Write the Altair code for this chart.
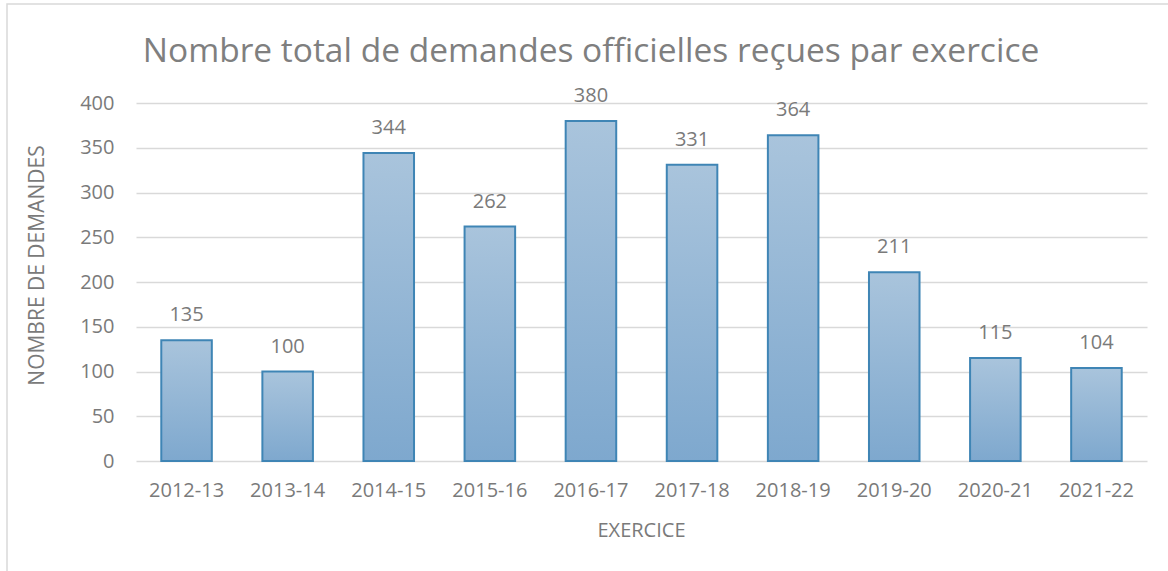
import altair as alt
import pandas as pd

categories = ["2012-13", "2013-14", "2014-15", "2015-16", "2016-17",
              "2017-18", "2018-19", "2019-20", "2020-21", "2021-22"]
values = [135, 100, 344, 262, 380, 331, 364, 211, 115, 104]
title_text = "Nombre total de demandes officielles reçues par exercice"

df = pd.DataFrame({"exercice": categories, "demandes": values})

FONT = "Open Sans"
GRAY = "#7a7a7a"

x = alt.X("exercice:N", sort=categories,
          scale=alt.Scale(paddingInner=0.5, paddingOuter=0.25),
          axis=alt.Axis(title="EXERCICE", labelAngle=0, labelFontSize=20,
                        labelColor=GRAY, labelFont=FONT, labelPadding=19,
                        ticks=False, domain=False, titleFont=FONT,
                        titleFontSize=20, titleFontWeight="normal",
                        titleColor=GRAY, titleX=505, titleY=69,
                        titleBaseline="middle", titleAlign="center"))
y = alt.Y("demandes:Q", scale=alt.Scale(domain=[0, 400]),
          axis=alt.Axis(title="NOMBRE DE DEMANDES", values=list(range(0, 401, 50)),
                        labelFontSize=20, labelColor=GRAY, labelFont=FONT,
                        labelPadding=22, ticks=False, domain=False,
                        gridColor="#d9d9d9", gridWidth=1.5,
                        titleFont=FONT, titleFontSize=21,
                        titleFontWeight="normal", titleColor=GRAY,
                        titleX=-99, titleY=162, titleAngle=-90,
                        titleBaseline="middle", titleAlign="center"))

base = alt.Chart(df)

bars = base.mark_bar(
    color=alt.Gradient(gradient="linear", x1=0, x2=0, y1=0, y2=1,
                       stops=[alt.GradientStop(offset=0, color="#a9c4dc"),
                              alt.GradientStop(offset=1, color="#7ea8ce")]),
    stroke="#3f85b5", strokeWidth=2
).encode(x=x, y=y)

labels = base.mark_text(baseline="alphabetic", dy=-19, fontSize=20,
                        font=FONT, color=GRAY).encode(
    x=alt.X("exercice:N", sort=categories), y="demandes:Q",
    text="demandes:Q")

one = pd.DataFrame({"t": [title_text]})

border = alt.Chart(one).mark_rect(
    fill=None, stroke="#d9d9d9", strokeWidth=1.5).encode(
    x=alt.value(-129), x2=alt.value(1100), y=alt.value(-99), y2=alt.value(520))

title = alt.Chart(one).mark_text(
    font=FONT, fontSize=33.5, color="#7f7f7f", baseline="alphabetic",
    align="center").encode(
    x=alt.value(455), y=alt.value(-41), text="t:N")

chart = alt.layer(border, bars, labels, title).properties(
    width=1011, height=358,
    autosize=alt.AutoSizeParams(type="none"),
    padding={"left": 136, "top": 103, "right": 21, "bottom": 110},
    background="white",
).configure_view(stroke=None)

chart.save("out.html", embed_options={"renderer": "svg", "actions": False})
